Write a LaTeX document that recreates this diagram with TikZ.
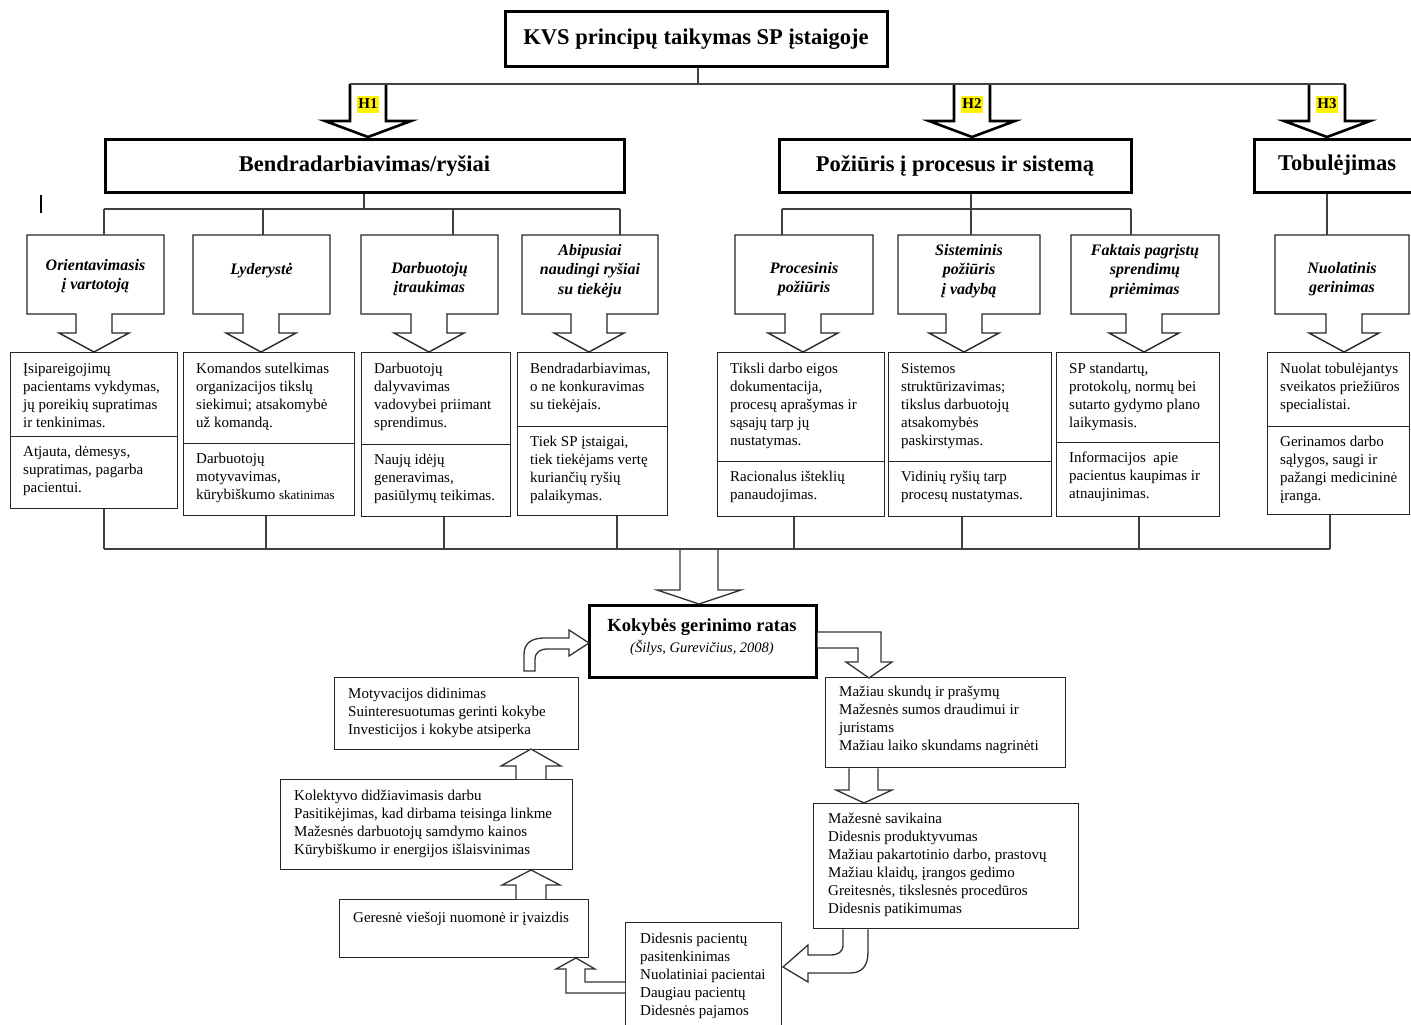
\documentclass[tikz,border=0pt]{standalone}
\usepackage{fontspec}
\setmainfont{Liberation Serif}
\newcommand\bodyfont{\fontsize{15}{18}\selectfont}
\newcommand\hdrfont{\fontsize{22.5}{27}\selectfont\bfseries}
\newcommand\subfont{\fontsize{16}{19.5}\selectfont\bfseries\itshape}
\newcommand\kokfont{\fontsize{18.5}{21}\selectfont\bfseries}
\newcommand\citefont{\fontsize{14.5}{17}\selectfont\itshape}
\newcommand\hlabfont{\fontsize{15}{17}\selectfont\bfseries}
\newcommand\smallfnt{\fontsize{13}{18}\selectfont}

% sub-box with arrow: name, left, right, arrow centre x, title y, title
\newcommand\subbox[6]{%
  \draw[subln] (#2,235) -- (#3,235) -- (#3,314) -- (#4+18,314) -- (#4+18,333) -- (#4+35,333) -- (#4,352) -- (#4-35,333) -- (#4-18,333) -- (#4-18,314) -- (#2,314) -- cycle;
  \node[ghost, minimum width=#3-#2, minimum height=79, anchor=north west] (#1) at (#2,235) {};
  \node[subttl] (#1t) at ({(#2+#3)/2},#5) {#6};
}
% content box: name, x1, x2, divider y, bottom y, upper text, lower text
\newcommand\cbox[7]{%
  \node[cell, minimum width=#3-#2, minimum height=#4-352, anchor=north west] (#1a) at (#2,352) {};
  \node[cell, minimum width=#3-#2, minimum height=#5-#4, anchor=north west] (#1b) at (#2,#4) {};
  \node[txt, anchor=north west] (#1at) at (#2+13,361) {\strut #6};
  \node[txt, anchor=north west] (#1bt) at (#2+13,#4+8) {\strut #7};
}

\begin{document}
\begin{tikzpicture}[x=1pt,y=-1pt,
  conn/.style={draw=black!75, line width=1.3pt},
  cell/.style={draw=black!85, line width=1.3pt, inner sep=0pt},
  subln/.style={draw=black!85, line width=1.4pt, fill=white, line join=miter},
  ghost/.style={inner sep=0pt},
  hdr/.style={draw=black, line width=3pt, inner sep=0pt, font=\hdrfont},
  txt/.style={inner sep=0pt, align=left, font=\bodyfont},
  subttl/.style={inner sep=0pt, align=center, font=\subfont},
  harrow/.style={draw=black, line width=2.6pt, fill=white, line join=miter},
  arr/.style={draw=black!80, line width=1.3pt, fill=white, line join=miter},
  hlab/.style={fill=yellow, inner sep=1.5pt, minimum height=17, font=\hlabfont},
]
\useasboundingbox (0,0) rectangle (1411,1025);
\fill[white] (0,0) rectangle (1411,1025);

% ---------- title and main headers ----------
\node[hdr, minimum width=382, minimum height=55] (title) at (696,39.5) {KVS principų taikymas SP įstaigoje};
\node[hdr, minimum width=519, minimum height=53] (hb) at (364.5,165.5) {Bendradarbiavimas/ryšiai};
\node[hdr, minimum width=352, minimum height=53] (hp) at (955,165.5) {Požiūris į procesus ir sistemą};
\node[hdr, minimum width=166, minimum height=53] (ht) at (1337,165.5) {Tobulėjimas};

% H arrows
\draw[harrow] (350,84) -- (350,121) -- (325,121) -- (368,137) -- (411,121) -- (386,121) -- (386,84);
\draw[harrow] (954,84) -- (954,121) -- (929,121) -- (972,137) -- (1015,121) -- (990,121) -- (990,84);
\draw[harrow] (1309,84) -- (1309,121) -- (1284,121) -- (1327,137) -- (1370,121) -- (1345,121) -- (1345,84);
\coordinate (hjL) at (350,84);
\coordinate (hjR) at (1345,84);
\draw[conn] (title.south -| 698,0) -- (698,84);
\draw[conn] (hjL) -- (hjR);
\node[hlab] (h1) at (368,104) {H1};
\node[hlab] (h2) at (972,104) {H2};
\node[hlab] (h3) at (1327,104) {H3};

% stray mark
\draw[line width=2.2pt] (41,195) -- (41,213);

% ---------- sub boxes ----------
\subbox{s1}{27}{164}{94}{276}{Orientavimasis\\į vartotoją}
\subbox{s2}{193}{330}{261}{271}{Lyderystė}
\subbox{s3}{361}{498}{429}{279}{Darbuotojų\\įtraukimas}
\subbox{s4}{522}{658}{589}{271}{Abipusiai\\naudingi ryšiai\\su tiekėju}
\subbox{s5}{735}{873}{803}{279}{Procesinis\\požiūris}
\subbox{s6}{898}{1040}{964}{271}{Sisteminis\\požiūris\\į vadybą}
\subbox{s7}{1071}{1219}{1144}{271}{Faktais pagrįstų\\sprendimų\\priėmimas}
\subbox{s8}{1275}{1409}{1344}{279}{Nuolatinis\\gerinimas}

% top connectors
\coordinate (g1) at (364,209);
\coordinate (g1a) at (104,209);
\coordinate (g1b) at (263,209);
\coordinate (g1c) at (453,209);
\coordinate (g1d) at (620,209);
\draw[conn] (g1 |- hb.south) -- (g1);
\draw[conn] (g1a) -- (g1d);
\draw[conn] (g1a) -- (g1a |- s1.north);
\draw[conn] (g1b) -- (g1b |- s2.north);
\draw[conn] (g1c) -- (g1c |- s3.north);
\draw[conn] (g1d) -- (g1d |- s4.north);
\coordinate (g2) at (971,209);
\coordinate (g2a) at (782,209);
\coordinate (g2c) at (1131,209);
\draw[conn] (g2 |- hp.south) -- (g2);
\draw[conn] (g2a) -- (g2c);
\draw[conn] (g2a) -- (g2a |- s5.north);
\draw[conn] (g2) -- (g2 |- s6.north);
\draw[conn] (g2c) -- (g2c |- s7.north);
\coordinate (g3) at (1327,209);
\draw[conn] (g3 |- ht.south) -- (g3 |- s8.north);

% ---------- content boxes ----------
\cbox{c1}{10}{177}{436}{508}{Įsipareigojimų\\pacientams vykdymas,\\jų poreikių supratimas\\ir tenkinimas.}{Atjauta, dėmesys,\\supratimas, pagarba\\pacientui.}
\cbox{c2}{183}{354}{443}{515}{Komandos sutelkimas\\organizacijos tikslų\\siekimui; atsakomybė\\už komandą.}{Darbuotojų\\motyvavimas,\\kūrybiškumo {\smallfnt skatinimas}}
\cbox{c3}{361}{510}{444}{516}{Darbuotojų\\dalyvavimas\\vadovybei priimant\\sprendimus.}{Naujų idėjų\\generavimas,\\pasiūlymų teikimas.}
\cbox{c4}{517}{667}{426}{515}{Bendradarbiavimas,\\o ne konkuravimas\\su tiekėjais.}{Tiek SP įstaigai,\\tiek tiekėjams vertę\\kuriančių ryšių\\palaikymas.}
\cbox{c5}{717}{884}{461}{516}{Tiksli darbo eigos\\dokumentacija,\\procesų aprašymas ir\\sąsajų tarp jų\\nustatymas.}{Racionalus išteklių\\panaudojimas.}
\cbox{c6}{888}{1051}{461}{516}{Sistemos\\struktūrizavimas;\\tikslus darbuotojų\\atsakomybės\\paskirstymas.}{Vidinių ryšių tarp\\procesų nustatymas.}
\cbox{c7}{1056}{1219}{442}{516}{SP standartų,\\protokolų, normų bei\\sutarto gydymo plano\\laikymasis.}{Informacijos\ \ apie\\pacientus kaupimas ir\\atnaujinimas.}
\cbox{c8}{1267}{1409}{426}{514}{Nuolat tobulėjantys\\sveikatos priežiūros\\specialistai.}{Gerinamos darbo\\sąlygos, saugi ir\\pažangi medicininė\\įranga.}

% bottom connectors
\coordinate (b1) at (104,549);
\coordinate (b2) at (266,549);
\coordinate (b3) at (444,549);
\coordinate (b4) at (617,549);
\coordinate (b5) at (794,549);
\coordinate (b6) at (962,549);
\coordinate (b7) at (1139,549);
\coordinate (b8) at (1330,549);
\draw[conn] (c1b.south -| b1) -- (b1);
\draw[conn] (c2b.south -| b2) -- (b2);
\draw[conn] (c3b.south -| b3) -- (b3);
\draw[conn] (c4b.south -| b4) -- (b4);
\draw[conn] (c5b.south -| b5) -- (b5);
\draw[conn] (c6b.south -| b6) -- (b6);
\draw[conn] (c7b.south -| b7) -- (b7);
\draw[conn] (c8b.south -| b8) -- (b8);

% ---------- quality circle ----------
\node[draw=black, line width=3pt, inner sep=0pt, minimum width=227, minimum height=72] (kok) at (702.5,641) {};
\node[inner sep=0pt, font=\kokfont] (kokt1) at (702,627) {Kokybės gerinimo ratas};
\node[inner sep=0pt, font=\citefont] (kokt2) at (702,648) {(Šilys, Gurevičius, 2008)};

\draw[arr] (680,549) -- (680,590) -- (657,590) -- (699,604) -- (741,590) -- (718,590) -- (718,549);
\draw[conn] (b1) -- (b8);

\node[cell, minimum width=244, minimum height=72, anchor=north west] (mot) at (334,677) {};
\node[txt, anchor=north west] (mott) at (348,686) {\strut Motyvacijos didinimas\\Suinteresuotumas gerinti kokybe\\Investicijos i kokybe atsiperka};
\node[cell, minimum width=292, minimum height=90, anchor=north west] (kol) at (280,779) {};
\node[txt, anchor=north west] (kolt) at (294,788) {\strut Kolektyvo didžiavimasis darbu\\Pasitikėjimas, kad dirbama teisinga linkme\\Mažesnės darbuotojų samdymo kainos\\Kūrybiškumo ir energijos išlaisvinimas};
\node[cell, minimum width=249, minimum height=58, anchor=north west] (ger) at (339,899) {};
\node[txt, anchor=north west] (gert) at (353,910) {\strut Geresnė viešoji nuomonė ir įvaizdis};
\node[cell, minimum width=240, minimum height=90, anchor=north west] (maz) at (825,677) {};
\node[txt, anchor=north west] (mazt) at (839,684) {\strut Mažiau skundų ir prašymų\\Mažesnės sumos draudimui ir\\juristams\\Mažiau laiko skundams nagrinėti};
\node[cell, minimum width=265, minimum height=125, anchor=north west] (sav) at (813,803) {};
\node[txt, anchor=north west] (savt) at (828,811) {\strut Mažesnė savikaina\\Didesnis produktyvumas\\Mažiau pakartotinio darbo, prastovų\\Mažiau klaidų, įrangos gedimo\\Greitesnės, tikslesnės procedūros\\Didesnis patikimumas};
\node[cell, minimum width=156, minimum height=120, anchor=north west] (did) at (625,922) {};
\node[txt, anchor=north west] (didt) at (640,931) {\strut Didesnis pacientų\\pasitenkinimas\\Nuolatiniai pacientai\\Daugiau pacientų\\Didesnės pajamos};

% cycle arrows
\draw[arr] (kok.east |- 0,632) -- (881,632) -- (881,662) -- (892,662) -- (869,678) -- (846,662) -- (858,662) -- (858,648) -- (kok.east |- 0,648);
\draw[arr] (maz.south -| 849,0) -- (849,790) -- (836,790) -- (864,803) -- (892,790) -- (878,790) -- (maz.south -| 878,0);
\draw[arr] (sav.south -| 843,0) -- (843,945) .. controls (843,952) and (838,955) .. (830,955) -- (808,955) -- (808,945) -- (783,967) -- (808,982) -- (808,973) -- (850,973) .. controls (862,973) and (868,966) .. (868,952) -- (sav.south -| 868,0);
\draw[arr] (did.west |- 0,982) -- (585,982) -- (585,969) -- (595,969) -- (576,958) -- (556,969) -- (566,969) -- (566,993) -- (did.west |- 0,993);
\draw[arr] (ger.north -| 516,0) -- (516,885) -- (502,885) -- (531,870) -- (560,885) -- (546,885) -- (ger.north -| 546,0);
\draw[arr] (kol.north -| 516,0) -- (516,766) -- (501,766) -- (531,749) -- (561,766) -- (546,766) -- (kol.north -| 546,0);
\draw[arr] (524,671) -- (524,655) .. controls (524,644) and (530,638) .. (545,638) -- (569,638) -- (569,630) -- (589,643) -- (569,656) -- (569,649) -- (548,649) .. controls (540,649) and (535,652) .. (535,660) -- (535,671) -- cycle;
\end{tikzpicture}
\end{document}
